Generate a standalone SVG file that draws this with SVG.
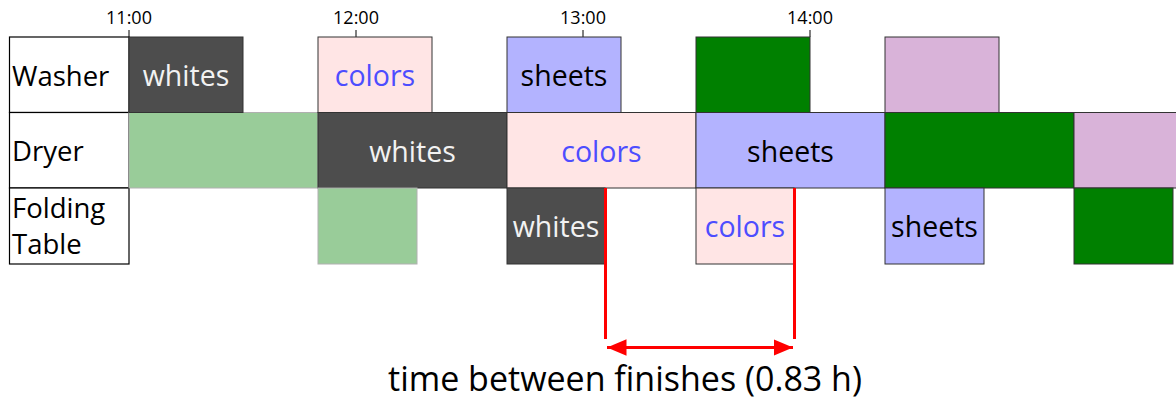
<svg xmlns="http://www.w3.org/2000/svg" width="1176" height="400" viewBox="0 0 1176 400">
<defs>
<style>
text{font-family:"Open Sans","DejaVu Sans",sans-serif;}
.lbl{font-size:27.5px;fill:#000;}
.tick{font-size:18px;fill:#000;text-anchor:middle;}
.bt{font-size:28.5px;text-anchor:middle;}
.w{fill:#f2f2f2;}
.b{fill:#4d4dff;}
.k{fill:#000;}
.box{stroke:#333;stroke-width:1;}
.dark{fill:#4d4d4d;}
.pink{fill:#ffe5e5;}
.blue{fill:#b3b3ff;}
.green{fill:#008000;}
.violet{fill:#d9b3d9;}
.lgreen{fill:#99cc99;stroke:#b0b0b0;stroke-width:1;}
.head{fill:#fff;stroke:#000;stroke-width:1.2;}
.red{stroke:#ff0000;stroke-width:3;fill:none;}
</style>
<marker id="ah" viewBox="0 0 10 10" refX="10" refY="5" markerWidth="6.5" markerHeight="5.5" preserveAspectRatio="none" orient="auto-start-reverse" markerUnits="strokeWidth">
<path d="M0,0 L10,5 L0,10 z" fill="#ff0000"/>
</marker>
</defs>
<g id="axis">
<g stroke="#000" stroke-width="1">
<line x1="129" y1="30" x2="129" y2="37"/>
<line x1="356" y1="30" x2="356" y2="37"/>
<line x1="583" y1="30" x2="583" y2="37"/>
<line x1="810" y1="30" x2="810" y2="37"/>
</g>
<text class="tick" x="129" y="24">11:00</text>
<text class="tick" x="356" y="24">12:00</text>
<text class="tick" x="583" y="24">13:00</text>
<text class="tick" x="810" y="24">14:00</text>
</g>
<g id="labels">
<rect class="head" x="9.5" y="37" width="119.5" height="75.5"/>
<rect class="head" x="9.5" y="112.5" width="119.5" height="75.5"/>
<rect class="head" x="9.5" y="188" width="119.5" height="76"/>
<text class="lbl" x="12" y="86">Washer</text>
<text class="lbl" x="12" y="161">Dryer</text>
<text class="lbl" x="12" y="218">Folding</text>
<text class="lbl" x="12" y="254">Table</text>
</g>
<g id="dryer">
<rect class="lgreen" x="129" y="112.5" width="189" height="75.5"/>
<rect class="box dark" x="318" y="112.5" width="189" height="75.5"/>
<text class="bt w" x="412.5" y="162">whites</text>
<rect class="box pink" x="507" y="112.5" width="189" height="75.5"/>
<text class="bt b" x="601.5" y="162">colors</text>
<rect class="box blue" x="696" y="112.5" width="189" height="75.5"/>
<text class="bt k" x="790.5" y="162">sheets</text>
<rect class="box green" x="885" y="112.5" width="189" height="75.5"/>
<rect class="box violet" x="1074" y="112.5" width="110" height="75.5"/>
</g>
<g id="washer">
<rect class="box dark" x="129" y="37" width="114" height="75.5"/>
<text class="bt w" x="186" y="86">whites</text>
<rect class="box pink" x="318" y="37" width="114" height="75.5"/>
<text class="bt b" x="375" y="86">colors</text>
<rect class="box blue" x="507" y="37" width="114" height="75.5"/>
<text class="bt k" x="564" y="86">sheets</text>
<rect class="box green" x="696" y="37" width="114" height="75.5"/>
<rect class="box violet" x="885" y="37" width="114" height="75.5"/>
</g>
<g id="folding">
<rect class="lgreen" x="318" y="188" width="99" height="76"/>
<rect class="box dark" x="507" y="188" width="98" height="76"/>
<text class="bt w" x="556" y="237">whites</text>
<rect class="box pink" x="696" y="188" width="98" height="76"/>
<text class="bt b" x="745" y="237">colors</text>
<rect class="box blue" x="885" y="188" width="99" height="76"/>
<text class="bt k" x="934.5" y="237">sheets</text>
<rect class="box green" x="1074" y="188" width="99" height="76"/>
</g>
<g id="connectors">
<line class="red" x1="605.5" y1="188" x2="605.5" y2="339"/>
<line class="red" x1="794.5" y1="188" x2="794.5" y2="339"/>
<line class="red" x1="607" y1="347.5" x2="793" y2="347.5" marker-start="url(#ah)" marker-end="url(#ah)"/>
</g>
<text x="625" y="391" font-size="34" text-anchor="middle" fill="#000">time between finishes (0.83 h)</text>
</svg>
